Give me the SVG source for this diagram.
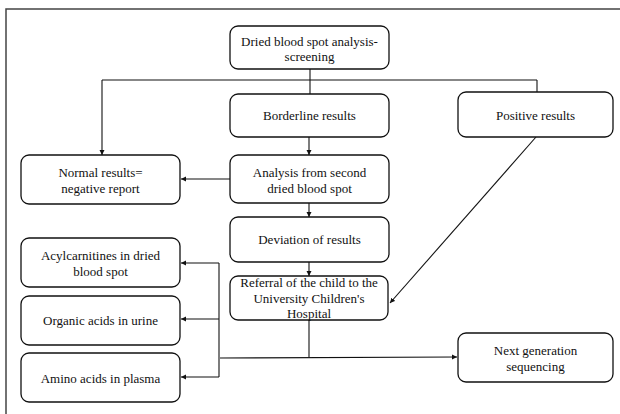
<svg xmlns="http://www.w3.org/2000/svg" width="620" height="414" viewBox="0 0 620 414">
<style>
.box{fill:#fff;stroke:#111;stroke-width:1.3}
.t{font-family:"Liberation Serif","Times New Roman",serif;font-size:13px;fill:#111;text-anchor:middle}
.c{fill:none;stroke:#111;stroke-width:1.1}
</style>
<defs>
<marker id="ah" markerWidth="6" markerHeight="6" refX="5" refY="3" orient="auto" markerUnits="userSpaceOnUse">
<path d="M0,0.5 L5,3 L0,5.5 Z" fill="#111"/>
</marker>
</defs>
<rect x="0" y="0" width="620" height="414" fill="#fff"/>
<rect id="frame" x="6" y="9" width="640" height="440" fill="none" stroke="#444" stroke-width="1.5"/>
<g id="connectors">
<line class="c" x1="310" y1="69" x2="310" y2="80" stroke="#1f3a5a"/>
<line class="c" x1="102" y1="80" x2="537" y2="80"/>
<line class="c" x1="102" y1="80" x2="102" y2="155" marker-end="url(#ah)"/>
<line class="c" x1="310" y1="80" x2="310" y2="94"/>
<line class="c" x1="537" y1="80" x2="537" y2="92"/>
<line class="c" x1="309" y1="137" x2="309" y2="155" marker-end="url(#ah)"/>
<line class="c" x1="230" y1="179" x2="181" y2="179" marker-end="url(#ah)"/>
<line class="c" x1="309" y1="203" x2="309" y2="217" marker-end="url(#ah)"/>
<line class="c" x1="309" y1="262" x2="309" y2="276" marker-end="url(#ah)"/>
<line class="c" x1="536" y1="137" x2="390" y2="303" marker-end="url(#ah)"/>
<line class="c" x1="309" y1="320" x2="309" y2="357"/>
<line class="c" x1="220" y1="358" x2="457" y2="357" marker-end="url(#ah)"/>
<line class="c" x1="219" y1="263" x2="219" y2="377"/>
<line class="c" x1="219" y1="263" x2="181" y2="263" marker-end="url(#ah)"/>
<line class="c" x1="219" y1="319" x2="181" y2="319" marker-end="url(#ah)"/>
<line class="c" x1="219" y1="377" x2="181" y2="377" marker-end="url(#ah)"/>
</g>
<g id="n-screening">
<rect class="box" x="230" y="26" width="159" height="43" rx="8"/>
<text class="t" x="309.5" y="46">Dried blood spot analysis-</text>
<text class="t" x="309.5" y="61">screening</text>
</g>
<g id="n-borderline">
<rect class="box" x="230" y="94" width="159" height="43" rx="8"/>
<text class="t" x="309.5" y="120">Borderline results</text>
</g>
<g id="n-positive">
<rect class="box" x="458" y="92" width="155" height="45" rx="8"/>
<text class="t" x="535.5" y="120">Positive results</text>
</g>
<g id="n-normal">
<rect class="box" x="21" y="155" width="159" height="49" rx="8"/>
<text class="t" x="100.5" y="177">Normal results=</text>
<text class="t" x="100.5" y="193">negative report</text>
</g>
<g id="n-analysis">
<rect class="box" x="230" y="155" width="159" height="48" rx="8"/>
<text class="t" x="309.5" y="177">Analysis from second</text>
<text class="t" x="309.5" y="193">dried blood spot</text>
</g>
<g id="n-deviation">
<rect class="box" x="230" y="217" width="159" height="45" rx="8"/>
<text class="t" x="309.5" y="244">Deviation of results</text>
</g>
<g id="n-referral">
<rect class="box" x="230" y="276" width="158" height="44" rx="8"/>
<text class="t" x="309" y="287">Referral of the child to the</text>
<text class="t" x="309" y="303">University Children's</text>
<text class="t" x="309" y="318">Hospital</text>
</g>
<g id="n-acyl">
<rect class="box" x="21" y="238" width="159" height="49" rx="8"/>
<text class="t" x="100.5" y="260">Acylcarnitines in dried</text>
<text class="t" x="100.5" y="276">blood spot</text>
</g>
<g id="n-organic">
<rect class="box" x="21" y="296" width="159" height="49" rx="8"/>
<text class="t" x="100.5" y="325">Organic acids in urine</text>
</g>
<g id="n-amino">
<rect class="box" x="21" y="353" width="159" height="49" rx="8"/>
<text class="t" x="100.5" y="383">Amino acids in plasma</text>
</g>
<g id="n-ngs">
<rect class="box" x="458" y="333" width="155" height="49" rx="8"/>
<text class="t" x="535.5" y="355">Next generation</text>
<text class="t" x="535.5" y="371">sequencing</text>
</g>
</svg>
